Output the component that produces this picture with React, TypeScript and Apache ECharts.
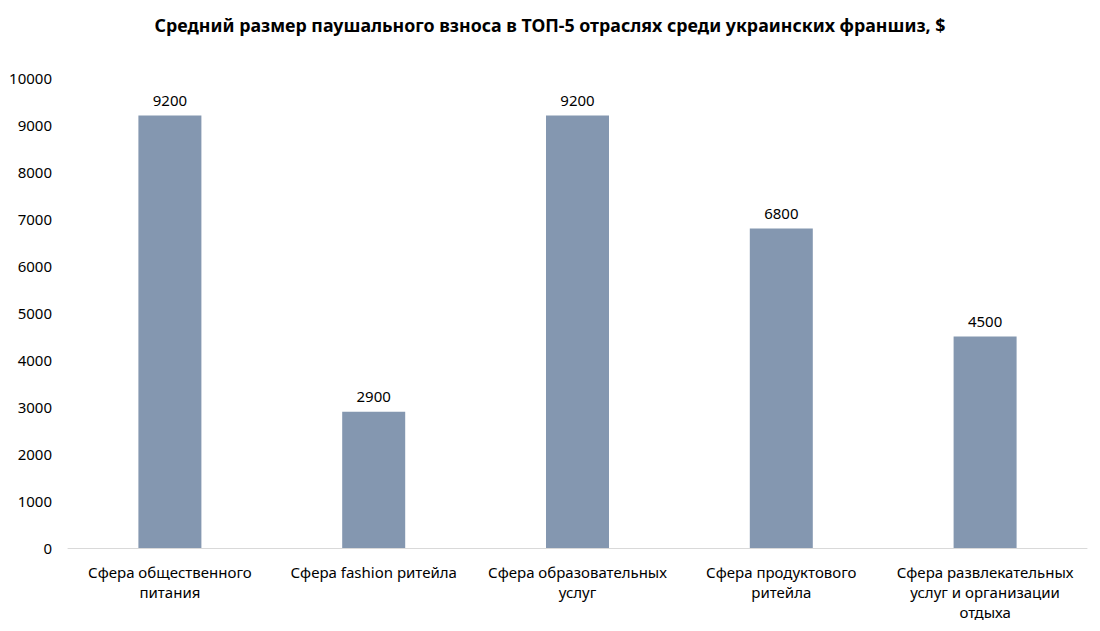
import React, { useEffect, useRef } from "react";
import * as echarts from "echarts";

const title = "Средний размер паушального взноса в ТОП-5 отраслях среди украинских франшиз, $";
const categories = [
  "Сфера общественного\nпитания",
  "Сфера fashion ритейла",
  "Сфера образовательных\nуслуг",
  "Сфера продуктового\nритейла",
  "Сфера развлекательных\nуслуг и организации\nотдыха",
];
const values = [9200, 2900, 9200, 6800, 4500];

export default function App() {
  const ref = useRef<HTMLDivElement>(null);
  useEffect(() => {
    document.body.style.margin = "0";
    const chart = echarts.init(ref.current!, undefined, { renderer: "svg" });
    chart.setOption({
      animation: false,
      backgroundColor: "#ffffff",
      textStyle: { fontFamily: "Noto Sans" },
      title: {
        text: title,
        left: "center",
        top: 11,
        textStyle: { fontFamily: "Noto Sans", fontWeight: "bold", fontSize: 17.8, color: "#000000" },
      },
      grid: { left: 68, right: 13, top: 78, bottom: 83, containLabel: false },
      xAxis: {
        type: "category",
        data: categories,
        axisLine: { show: true, lineStyle: { color: "#d9d9d9", width: 1 } },
        axisTick: { show: false },
        axisLabel: {
          interval: 0,
          color: "#000000",
          fontSize: 15,
          lineHeight: 20,
          margin: 14,
          fontFamily: "Noto Sans",
        },
      },
      yAxis: {
        type: "value",
        min: 0,
        max: 10000,
        interval: 1000,
        axisLine: { show: false },
        axisTick: { show: false },
        splitLine: { show: false },
        axisLabel: {
          color: "#000000",
          fontSize: 15,
          margin: 16,
          fontFamily: "Noto Sans",
          formatter: (v: number) => String(v),
        },
      },
      series: [
        {
          type: "bar",
          data: values,
          barWidth: 63,
          itemStyle: { color: "#8497b0" },
          label: {
            show: true,
            position: "top",
            distance: 8,
            color: "#000000",
            fontSize: 15,
            fontFamily: "Noto Sans",
          },
        },
      ],
    });
    return () => chart.dispose();
  }, []);
  return <div ref={ref} style={{ width: 1100, height: 631 }} />;
}
